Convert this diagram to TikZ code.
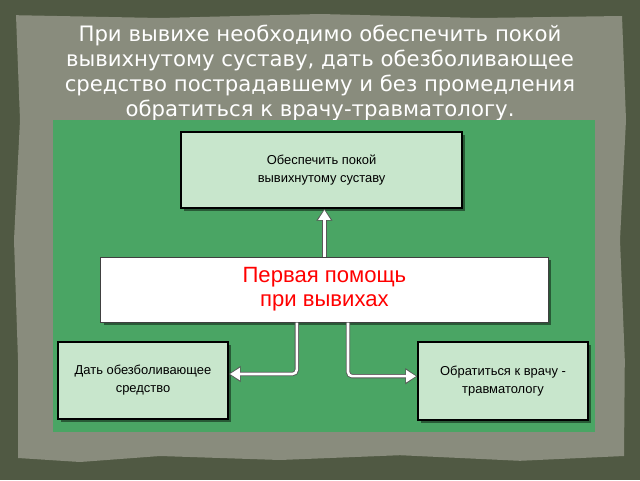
\documentclass[tikz,border=0pt]{standalone}
\usepackage{fontspec}
\setmainfont{Liberation Sans}
\newfontfamily\titlefont{DejaVu Sans}
\usetikzlibrary{positioning,arrows.meta,shadows}

\definecolor{board}{HTML}{505943}
\definecolor{paper}{HTML}{898C7D}
\definecolor{panel}{HTML}{4AA564}
\definecolor{mint}{HTML}{C8E6CC}

\begin{document}
\begin{tikzpicture}[
  font=\fontsize{9.2}{12.7}\selectfont,
  box/.style={draw, line width=1.1pt, fill=mint, align=center, minimum width=4.25cm, minimum height=1.93cm,
    drop shadow={shadow xshift=2pt, shadow yshift=-2pt, opacity=0.45, fill=black}},
  hubbox/.style={draw=black!75, line width=0.7pt, fill=white, align=center, minimum width=11.18cm, minimum height=1.63cm,
    text=red, font=\fontsize{15.7}{17}\selectfont,
    drop shadow={shadow xshift=2pt, shadow yshift=-2pt, opacity=0.45, fill=black}},
  pipe/.style={draw=black!65, line width=3pt, rounded corners=3pt, -{Triangle[length=8.5pt, width=11pt]}},
  pipecore/.style={draw=white, line width=1.8pt, rounded corners=3pt, shorten >=0.9pt, -{Triangle[length=7pt, width=8.4pt]}},
]
  \useasboundingbox (0,0) rectangle (16,12);
  % board and paper
  \fill[board] (0,0) rectangle (16,12);
  \fill[paper] (0.45,0.55) -- (2,0.45) -- (4,0.6) -- (7,0.5) -- (10,0.62) -- (13,0.48) -- (15.6,0.6)
    -- (15.62,3) -- (15.5,6) -- (15.65,9) -- (15.55,11.6) -- (12,11.55) -- (8,11.65) -- (4,11.55) -- (0.4,11.62)
    -- (0.5,9) -- (0.35,6) -- (0.45,3) -- cycle;
  \node[text=white, align=center, font=\titlefont\fontsize{15.1}{17.7}\selectfont] (title) at (8,10.18)
    {При вывихе необходимо обеспечить покой\\вывихнутому суставу, дать обезболивающее\\средство пострадавшему и без промедления\\обратиться к врачу-травматологу.};
  % green panel
  \fill[panel] (1.325,1.2) rectangle (14.875,9);

  \node[box, minimum width=7.03cm, minimum height=1.9cm] (care) at (8.04,7.75) {Обеспечить покой\\вывихнутому суставу};
  \node[hubbox] (hub) at (8.11,4.76) {Первая помощь\\при вывихах};
  \node[box] (pain) at (3.575,2.49) {Дать обезболивающее\\средство};
  \node[box, minimum height=1.95cm] (doc) at (12.575,2.475) {Обратиться к врачу -\\травматологу};

  \draw[pipe] (hub.north) -- (hub.north |- care.south);
  \draw[pipecore] (hub.north) -- (hub.north |- care.south);
  \draw[pipe] ([xshift=-6.9mm]hub.south) |- ([yshift=1.6mm]pain.east);
  \draw[pipecore] ([xshift=-6.9mm]hub.south) |- ([yshift=1.6mm]pain.east);
  \draw[pipe] ([xshift=5.9mm]hub.south) |- ([yshift=1.2mm]doc.west);
  \draw[pipecore] ([xshift=5.9mm]hub.south) |- ([yshift=1.2mm]doc.west);
\end{tikzpicture}
\end{document}
